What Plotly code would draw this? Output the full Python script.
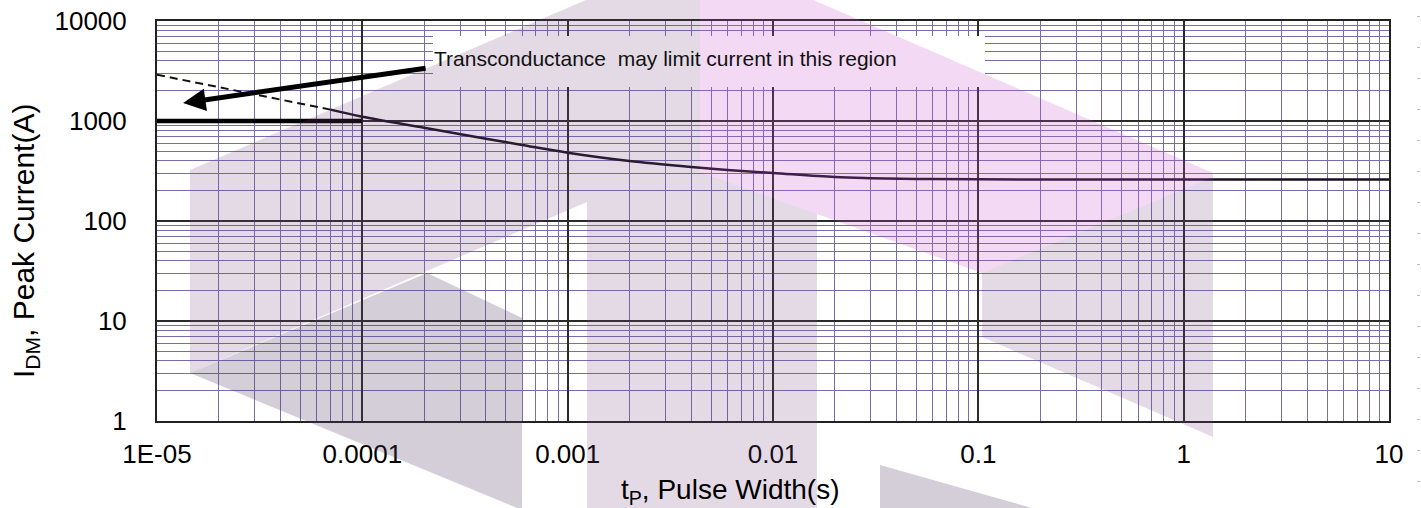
import math
import plotly.graph_objects as go

# ---------------- data ----------------
# solid curve (pulse width s, peak current A)
t_curve = [7e-5, 1e-4, 2e-4, 4e-4, 6e-4, 1e-3, 2e-3, 4e-3, 6e-3, 1e-2, 2e-2, 3e-2, 5e-2, 1e-1, 1.0, 10.0]
i_curve = [1300, 1105, 857, 665, 575, 482, 398, 347, 324, 302, 275, 268, 263, 261, 260, 260]
# dashed extension (transconductance region)
t_dash = [1e-5, 7e-5]
i_dash = [2900, 1300]
# thick limit line
t_limit = [1e-5, 1e-4]
i_limit = [1000, 1000]

x_tickvals = [1e-5, 1e-4, 1e-3, 1e-2, 1e-1, 1, 10]
x_ticktext = ["1E-05", "0.0001", "0.001", "0.01", "0.1", "1", "10"]
y_tickvals = [1, 10, 100, 1000, 10000]
y_ticktext = ["1", "10", "100", "1000", "10000"]

note_text = "Transconductance  may limit current in this region"
x_title = "t<sub>P</sub>, Pulse Width(s)"
y_title = "I<sub>DM</sub>, Peak Current(A)"

# ---------------- layout geometry (pixels) ----------------
W, H = 1421, 508
L, R, T, B = 157, 1389, 21, 421


def pp(px, py):
    return ((px - L) / (R - L), (B - py) / (B - T))


def path(pts):
    s = ""
    for k, (px, py) in enumerate(pts):
        x, y = pp(px, py)
        s += ("M" if k == 0 else " L") + f"{x:.5f},{y:.5f}"
    return s + " Z"


FONT = "Arial, Liberation Sans, sans-serif"

fig = go.Figure()
fig.add_trace(go.Scatter(x=t_limit, y=i_limit, mode="lines",
                         line=dict(color="#000000", width=4.5), hoverinfo="skip"))
fig.add_trace(go.Scatter(x=t_dash, y=i_dash, mode="lines",
                         line=dict(color="#111111", width=2, dash="8px,5px"), hoverinfo="skip"))
fig.add_trace(go.Scatter(x=t_curve, y=i_curve, mode="lines", line_shape="spline",
                         line=dict(color="#1a1020", width=2.5), hoverinfo="skip"))

axis_common = dict(
    type="log", automargin=False,
    showline=True, mirror=True, linecolor="#222222", linewidth=2,
    showgrid=True, gridcolor="#2a2a2a", gridwidth=1.5,
    ticks="", zeroline=False,
    tickfont=dict(family=FONT, size=26, color="#000000"),
    minor=dict(showgrid=True, gridcolor="#756dac", gridwidth=1.4, dtick="D1"),
)
fig.update_xaxes(range=[-5, 1], tickvals=x_tickvals, ticktext=x_ticktext,
                 ticklabelstandoff=9, **axis_common)
fig.update_yaxes(range=[0, 4], tickvals=y_tickvals, ticktext=y_ticktext,
                 ticklabelstandoff=23, **axis_common)

shapes = []
# white background of the note
bx0, by0 = pp(433, 36)
bx1, by1 = pp(985, 87)
shapes.append(dict(type="rect", xref="paper", yref="paper", x0=bx0, x1=bx1, y0=by1, y1=by0,
                   fillcolor="white", line=dict(width=0), layer="above"))

# watermark polygons (pixel coordinates)
wm_gray = "rgba(120,70,130,0.20)"
wm_pink = "rgba(205,80,205,0.22)"
wm_dark = "rgba(80,60,100,0.25)"
polys = [
    ([(190, 170), (700, -49), (700, 172), (587, 202), (190, 373)], wm_gray),
    ([(700, -49), (1213, 173), (1213, 177), (982, 273), (817, 214), (700, 172)], wm_pink),
    ([(587, 202), (700, 172), (817, 214), (817, 530), (587, 530)], wm_gray),
    ([(982, 273), (1213, 177), (1213, 437), (982, 337)], wm_gray),
    ([(190, 373), (427, 273), (522, 318), (522, 510), (190, 373)], wm_dark),
    ([(880, 465), (1110, 530), (880, 530)], wm_dark),
]
for pts, col in polys:
    shapes.append(dict(type="path", xref="paper", yref="paper", path=path(pts),
                       fillcolor=col, line=dict(width=0), layer="above"))

# faint dash column at the right edge
dx, dy0 = pp(1418.5, 16)
_, dy1 = pp(1418.5, 508)
shapes.append(dict(type="line", xref="paper", yref="paper", x0=dx, x1=dx, y0=dy0, y1=dy1,
                   line=dict(color="#bcbcc6", width=3, dash="1px,30px"), layer="above"))

fig.update_layout(shapes=shapes)

annotations = []
nx, ny = pp(665, 58)
annotations.append(dict(xref="paper", yref="paper", x=nx, y=ny, text=note_text, showarrow=False,
                        font=dict(family=FONT, size=21, color="#111111"),
                        xanchor="center", yanchor="middle"))
# arrow pointing at the transconductance region
tip_x = math.log10(1.34e-5)
tip_y = math.log10(1514)
annotations.append(dict(x=tip_x, y=tip_y, xref="x", yref="y", text="", showarrow=True,
                        ax=244, ay=-35, axref="pixel", ayref="pixel",
                        arrowhead=2, arrowsize=0.9, arrowwidth=5, arrowcolor="#000000"))
tx, ty = pp(730, 491)
annotations.append(dict(xref="paper", yref="paper", x=tx, y=ty, text=x_title, showarrow=False,
                        font=dict(family=FONT, size=28, color="#000000"),
                        xanchor="center", yanchor="middle"))
yx, yy = pp(25, 241)
annotations.append(dict(xref="paper", yref="paper", x=yx, y=yy, text=y_title, showarrow=False,
                        textangle=-90,
                        font=dict(family=FONT, size=30, color="#000000"),
                        xanchor="center", yanchor="middle"))
fig.update_layout(annotations=annotations)

fig.update_layout(
    width=W, height=H,
    margin=dict(l=L, r=W - R, t=T, b=H - B, pad=0, autoexpand=False),
    paper_bgcolor="white", plot_bgcolor="white",
    showlegend=False,
    font=dict(family=FONT, color="#000000"),
)

fig.write_html("out.html", config={"displayModeBar": False},
               post_script="document.body.style.margin='0';")
